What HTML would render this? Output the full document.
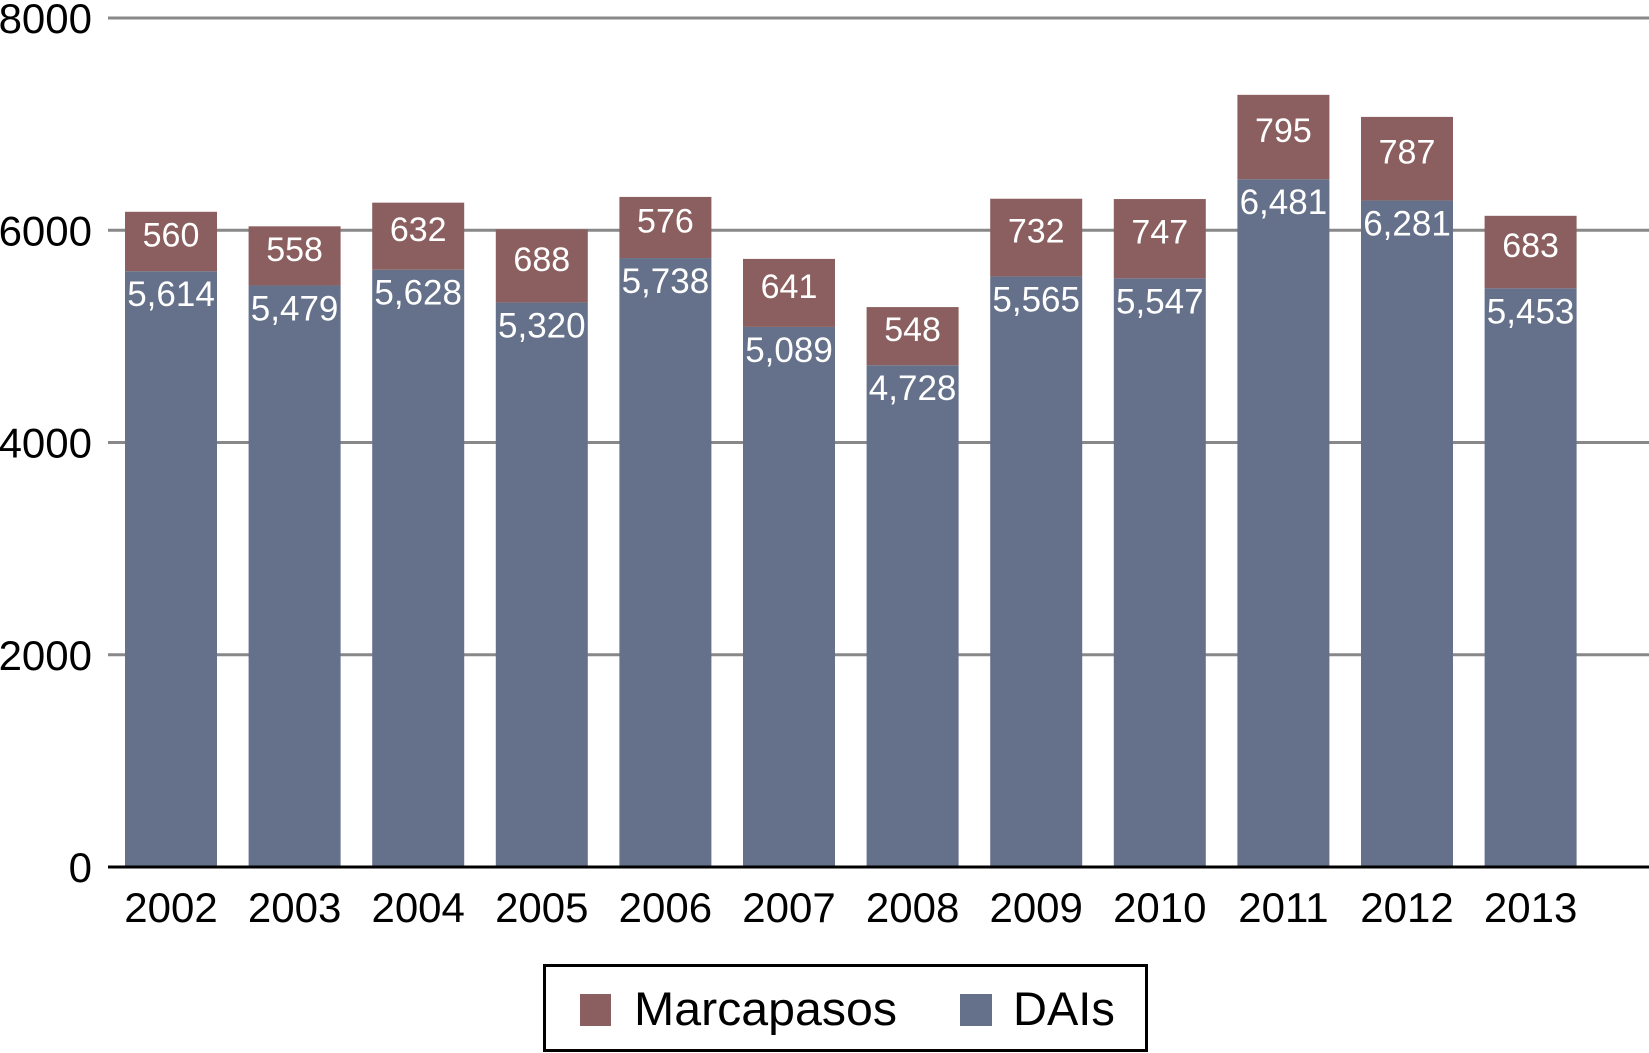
<!DOCTYPE html>
<html><head><meta charset="utf-8"><style>
html,body{margin:0;padding:0;background:#fff;}
svg{display:block;font-family:"Liberation Sans",Arial,sans-serif;}
</style></head><body>
<svg id="chart" width="1649" height="1053" viewBox="0 0 1649 1053">
<g id="grid"></g>
<g id="bars"></g>
<g id="ylabels"></g>
<g id="xlabels"></g>
<g>
<rect x="544.5" y="965.5" width="602" height="85" fill="#fff" stroke="#000" stroke-width="3"/>
<rect x="580" y="994" width="31" height="32" fill="#8B5F5F"/>
<text x="634" y="1025" font-size="47" textLength="263" lengthAdjust="spacingAndGlyphs" fill="#000">Marcapasos</text>
<rect x="960" y="994" width="32" height="32" fill="#65718A"/>
<text x="1013" y="1025" font-size="47" fill="#000">DAIs</text>
</g>
</svg>
<script>
const years = ["2002","2003","2004","2005","2006","2007","2008","2009","2010","2011","2012","2013"];
const dais = [5614,5479,5628,5320,5738,5089,4728,5565,5547,6481,6281,5453];
const marcapasos = [560,558,632,688,576,641,548,732,747,795,787,683];
const yTicks = [0,2000,4000,6000,8000];
const NS = "http://www.w3.org/2000/svg";
const y0 = 867, pxPer = (867-18)/8000;
function yScale(v){ return y0 - v*pxPer; }
function xScale(i){ return 125 + i*123.6; }
const barW = 92;
function mk(tag, attrs, parent){ const e=document.createElementNS(NS,tag); for(const k in attrs) e.setAttribute(k,attrs[k]); parent.appendChild(e); return e; }
const grid=document.getElementById('grid'), bars=document.getElementById('bars'), yl=document.getElementById('ylabels'), xl=document.getElementById('xlabels');
yTicks.forEach(t=>{
  const y=yScale(t);
  if(t>0){ const l=mk('line',{x1:108,x2:1649,y1:y,y2:y,stroke:'#888',"stroke-width":3},grid);
    
     }
  const tx=mk('text',{x:92,y:y+15,"text-anchor":"end","font-size":42,fill:'#000'},yl);
  tx.textContent=t;
  
  
});
years.forEach((yr,i)=>{
  const x=xScale(i), cx=x+barW/2;
  const yb=yScale(dais[i]), yt=yScale(dais[i]+marcapasos[i]);
  const b=mk('rect',{x:x,y:yb,width:barW,height:y0-yb,fill:'#65718A'},bars);
  
  
  const r=mk('rect',{x:x,y:yt,width:barW,height:yb-yt,fill:'#8B5F5F'},bars);
  
  
  const t1=mk('text',{x:cx,y:(yt+yb)/2+5,"text-anchor":"middle","font-size":34,fill:'#fff'},bars);
  t1.textContent=marcapasos[i].toLocaleString('en-US');
  
  
  const t2=mk('text',{x:cx,y:yb+35,"text-anchor":"middle","font-size":35,fill:'#fff'},bars);
  t2.textContent=dais[i].toLocaleString('en-US');
  
  
  const xt=mk('text',{x:cx,y:922,"text-anchor":"middle","font-size":42,fill:'#000'},xl);
  xt.textContent=yr;
  
  
});
const ax=mk('line',{x1:108,x2:1649,y1:y0,y2:y0,stroke:'#000',"stroke-width":3},grid.parentNode);


</script>
</body></html>
